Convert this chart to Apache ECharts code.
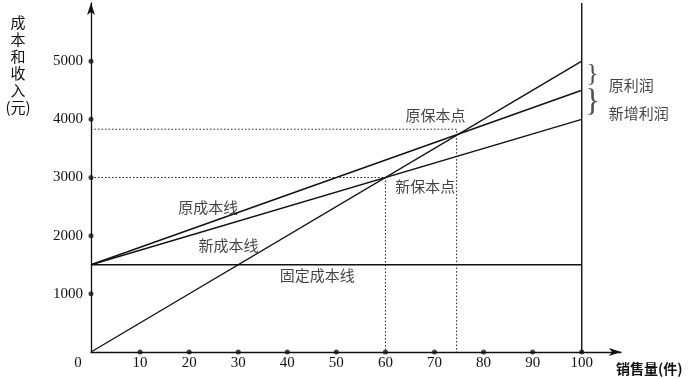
<!DOCTYPE html>
<html>
<head>
<meta charset="utf-8">
<script src="https://cdn.jsdelivr.net/npm/echarts@6/dist/echarts.min.js"></script>
<style>
  html, body { margin: 0; padding: 0; background: #fff; }
  #BreakEvenChart { width: 700px; height: 379px; }
</style>
</head>
<body>
<div id="BreakEvenChart"></div>
<script>
// 销售量 (件) 与 成本和收入 (元)
const salesTicks = [10, 20, 30, 40, 50, 60, 70, 80, 90, 100];
const valueTicks = [1000, 2000, 3000, 4000, 5000];

const revenueLine = [[0, 0], [100, 5000]];
const oldCostLine = [[0, 1500], [100, 4500]];
const newCostLine = [[0, 1500], [100, 4000]];
const fixedCostLine = [[0, 1500], [100, 1500]];
const endLine = [[100, 0], [100, 6000]];

// 保本点辅助虚线
const newBreakEven = [[0, 3000], [60, 3000], [60, 0]];
const oldBreakEven = [[0, 3830], [74.5, 3830], [74.5, 0]];

// 文字标注 [x, y, text, align]
const notes = [
  [70.2, 4070, "原保本点", "center"],
  [68.1, 2850, "新保本点", "center"],
  [23.9, 2490, "原成本线", "center"],
  [28.0, 1840, "新成本线", "center"],
  [46.1, 1320, "固定成本线", "center"],
  [105.5, 4710, "原利润", "left"],
  [105.5, 4230, "新增利润", "left"]
];
const braces = [[102.2, 4780, 26], [102.2, 4290, 32]];

const serif = "'Liberation Serif', 'DejaVu Serif', serif";
const cjk = "'Noto Sans CJK SC', sans-serif";

const chartDom = document.getElementById("BreakEvenChart");
const myChart = echarts.init(chartDom);

const blackLine = (data) => ({
  type: "line",
  data: data,
  symbol: "none",
  silent: true,
  animation: false,
  lineStyle: { color: "#111", width: 1.4 }
});
const dotLine = (data) => ({
  type: "line",
  data: data,
  symbol: "none",
  silent: true,
  animation: false,
  lineStyle: { color: "#222", width: 1, type: [1.5, 2] }
});

const option = {
  backgroundColor: "#fff",
  animation: false,
  grid: { left: 91, right: 79, top: 3, bottom: 27, containLabel: false },
  xAxis: {
    type: "value",
    min: 0,
    max: 108,
    interval: 10,
    splitLine: { show: false },
    axisTick: { show: false },
    axisLine: {
      onZero: false,
      symbol: ["none", "arrow"],
      symbolSize: [6, 12],
      lineStyle: { color: "#111", width: 1.3 }
    },
    axisLabel: {
      margin: 4,
      color: "#111",
      fontFamily: serif,
      fontSize: 15,
      showMaxLabel: false,
      formatter: (v) => (v === 0 ? "{z|0}" : v > 100 ? "" : String(v)),
      rich: { z: { fontFamily: serif, fontSize: 15, color: "#111", padding: [0, 26, 0, 0] } }
    }
  },
  yAxis: {
    type: "value",
    min: 0,
    max: 6000,
    interval: 1000,
    splitLine: { show: false },
    axisTick: { show: false },
    axisLine: {
      onZero: false,
      symbol: ["none", "arrow"],
      symbolSize: [6, 12],
      lineStyle: { color: "#111", width: 1.3 }
    },
    axisLabel: {
      margin: 8,
      color: "#111",
      fontFamily: serif,
      fontSize: 15,
      formatter: (v) => (v === 0 || v > 5000 ? "" : String(v))
    }
  },
  graphic: [
    {
      type: "text",
      x: 18,
      y: 14,
      style: {
        text: "成\n本\n和\n收\n入\n(元)",
        font: "15px " + cjk,
        fill: "#111",
        lineHeight: 17,
        align: "center"
      }
    },
    {
      type: "text",
      left: 616,
      top: 362,
      style: { text: "销售量(件)", font: "bold 14px " + cjk, fill: "#111" }
    }
  ],
  series: [
    blackLine(revenueLine),
    blackLine(oldCostLine),
    blackLine(newCostLine),
    blackLine(fixedCostLine),
    blackLine(endLine),
    dotLine(newBreakEven),
    dotLine(oldBreakEven),
    {
      type: "scatter",
      silent: true,
      symbol: "circle",
      symbolSize: 5,
      itemStyle: { color: "#111" },
      data: salesTicks.map((v) => [v, 0]).concat(valueTicks.map((v) => [0, v]))
    },
    {
      type: "scatter",
      silent: true,
      clip: false,
      symbolSize: 0,
      data: notes.map((n) => ({ value: [n[0], n[1]], name: n[2], align: n[3] })),
      label: {
        show: true,
        position: "inside",
        color: "#111",
        fontFamily: cjk,
        fontSize: 15,
        formatter: (p) => p.name
      },
      labelLayout: (p) => {
        const d = notes[p.dataIndex];
        if (d[3] === "left") {
          return { x: p.rect.x, align: "left" };
        }
        return {};
      }
    },
    {
      type: "scatter",
      silent: true,
      clip: false,
      symbolSize: 0,
      data: braces.map((b) => ({ value: [b[0], b[1]], size: b[2] })),
      label: {
        show: true,
        position: "inside",
        color: "#222",
        fontFamily: serif,
        fontSize: 26,
        formatter: "}"
      }
    }
  ]
};
option.series[9].data.forEach((d) => {
  d.label = { fontSize: d.size };
});
option && myChart.setOption(option);
window.addEventListener("resize", myChart.resize);
</script>
</body>
</html>
